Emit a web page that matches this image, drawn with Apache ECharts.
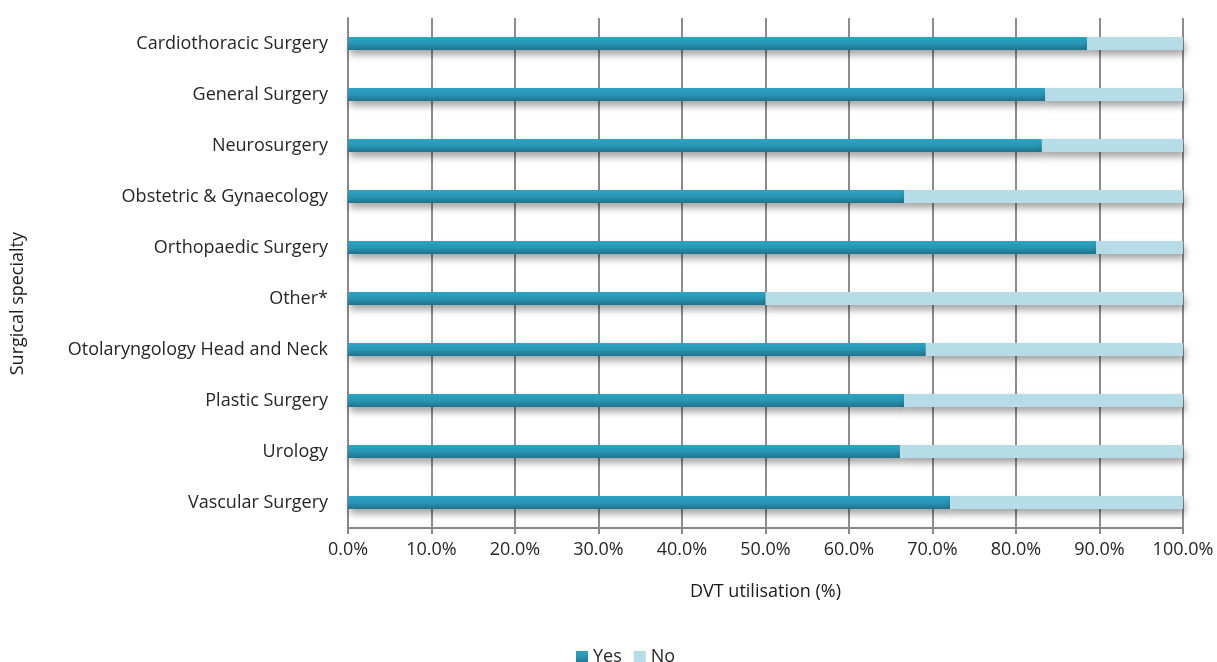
<!DOCTYPE html>
<html><head><meta charset="utf-8">
<script src="https://cdn.jsdelivr.net/npm/echarts@6/dist/echarts.min.js"></script>
<style>html,body{margin:0;padding:0;background:#fff}#c{width:1217px;height:662px}</style>
</head><body><div id="c"></div>
<script>
const categories = ["Cardiothoracic Surgery","General Surgery","Neurosurgery","Obstetric & Gynaecology","Orthopaedic Surgery","Other*","Otolaryngology Head and Neck","Plastic Surgery","Urology","Vascular Surgery"];
const yesValues = [88.5, 83.5, 83.1, 66.6, 89.6, 50.0, 69.2, 66.6, 66.1, 72.1];
const noValues = [11.5, 16.5, 16.9, 33.4, 10.4, 50.0, 30.8, 33.4, 33.9, 27.9];
const xTicks = [0, 10, 20, 30, 40, 50, 60, 70, 80, 90, 100];
const yAxisTitle = "Surgical specialty";
const xAxisTitle = "DVT utilisation (%)";

const font = "'Open Sans', 'Noto Sans', sans-serif";
const chart = echarts.init(document.getElementById('c'), null, {renderer: 'canvas'});
const shadow = {shadowColor: 'rgba(0,0,0,0.35)', shadowBlur: 7, shadowOffsetX: 2, shadowOffsetY: 5};
chart.setOption({
  animation: false,
  textStyle: {fontFamily: font},
  grid: {left: 348, right: 34, top: 18, bottom: 134, containLabel: false},
  graphic: [{
    type: 'text', left: 9, top: 232,
    style: {text: yAxisTitle, font: "18px 'Open Sans', sans-serif", fill: '#1a1a1a'},
    rotation: Math.PI / 2, originX: 0, originY: 0
  }],
  legend: {
    top: 643, left: 571, itemWidth: 12, itemHeight: 12, itemGap: 12,
    icon: 'rect',
    textStyle: {fontFamily: font, fontSize: 18, color: '#262626'},
    data: ['Yes', 'No']
  },
  xAxis: {
    type: 'value', min: 0, max: 100, interval: 10,
    name: xAxisTitle, nameLocation: 'middle', nameGap: 55,
    nameTextStyle: {fontFamily: font, fontSize: 18, color: '#1a1a1a'},
    axisLine: {show: true, lineStyle: {color: '#888', width: 2}},
    axisTick: {show: true, length: 6, lineStyle: {color: '#888', width: 2}},
    axisLabel: {fontFamily: font, fontSize: 18, color: '#262626', margin: 13, formatter: v => xTicks.includes(v) ? v.toFixed(1) + '%' : ''},
    splitLine: {show: true, lineStyle: {color: '#8c8c8c', width: 2}}
  },
  yAxis: {
    type: 'category', data: categories, inverse: true,
    axisLine: {show: true, lineStyle: {color: '#888', width: 2}},
    axisTick: {show: false},
    axisLabel: {fontFamily: font, fontSize: 18, color: '#262626', margin: 20},
    splitLine: {show: false}
  },
  series: [
    {
      name: 'Yes', type: 'bar', stack: 'a', barWidth: 13, data: yesValues,
      itemStyle: Object.assign({
        color: new echarts.graphic.LinearGradient(0, 0, 0, 1, [
          {offset: 0, color: '#2ea3c4'}, {offset: 0.5, color: '#2896b5'}, {offset: 1, color: '#21728c'}
        ])
      }, shadow)
    },
    {
      name: 'No', type: 'bar', stack: 'a', barWidth: 13, data: noValues,
      itemStyle: Object.assign({color: '#b6dde7'}, shadow)
    }
  ]
});
</script></body></html>
